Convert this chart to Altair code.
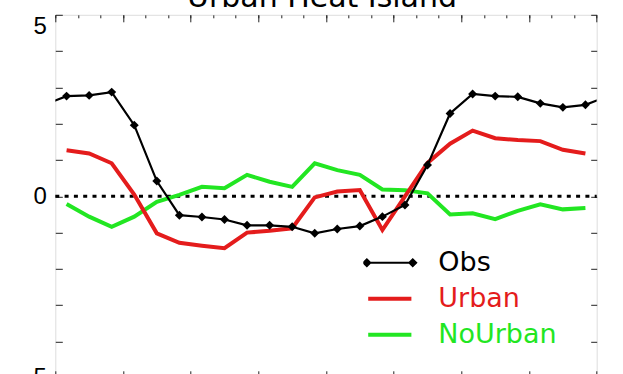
import altair as alt
import pandas as pd

# ---- data ----
hours = [i + 0.5 for i in range(24)]
obs = [2.76, 2.78, 2.87, 1.96, 0.42, -0.52, -0.57, -0.64, -0.80, -0.80, -0.84, -1.02,
       -0.90, -0.82, -0.56, -0.24, 0.86, 2.28, 2.82, 2.76, 2.74, 2.56, 2.45, 2.52]
urban = [1.27, 1.18, 0.91, 0.05, -1.02, -1.28, -1.36, -1.43, -1.00, -0.95, -0.88, -0.03,
         0.13, 0.17, -0.93, 0.00, 0.92, 1.45, 1.81, 1.60, 1.55, 1.52, 1.28, 1.18]
nourban = [-0.21, -0.56, -0.84, -0.56, -0.15, 0.04, 0.26, 0.22, 0.59, 0.40, 0.26, 0.91,
           0.72, 0.59, 0.19, 0.17, 0.08, -0.50, -0.47, -0.63, -0.40, -0.22, -0.36, -0.32]
series_names = ["Obs", "Urban", "NoUrban"]
series_colors = ["#000000", "#e41c1c", "#22e622"]
x_major = [0, 3, 6, 9, 12, 15, 18, 21, 24]
x_minor = list(range(25))
y_ticks = list(range(-5, 6))
x_range = [0, 24]
y_range = [-5, 5]

# obs is a daily cycle: wrap one point on each side (clipped at the frame)
obs_hours = [hours[0] - 1] + hours + [hours[-1] + 1]
obs_vals = [obs[-1]] + obs + [obs[0]]

rows = []
for h, v in zip(obs_hours, obs_vals):
    rows.append({"series": "Obs", "hour": h, "value": v})
for h, v in zip(hours, urban):
    rows.append({"series": "Urban", "hour": h, "value": v})
for h, v in zip(hours, nourban):
    rows.append({"series": "NoUrban", "hour": h, "value": v})
df = pd.DataFrame(rows)
pts = pd.DataFrame({"hour": hours, "value": obs})
zero_df = pd.DataFrame({"z": [0]})

xs = alt.Scale(domain=x_range, nice=False, zero=False)
ys = alt.Scale(domain=y_range, nice=False, zero=False)

TICK = "#222222"
base_ax = dict(domain=False, grid=False, title=None, tickColor=TICK, tickWidth=1,
               labelOverlap=False, labelFlush=False)

top_major = alt.Axis(orient="top", values=x_major, tickSize=7, offset=-7, labels=False, **base_ax)
top_minor = alt.Axis(orient="top", values=x_minor, tickSize=3, offset=-3, labels=False, **base_ax)
bottom_major = alt.Axis(orient="bottom", values=x_major, tickSize=7, offset=-7, labels=False, **base_ax)
left_ax = alt.Axis(
    orient="left", values=y_ticks, tickSize=7, offset=-7,
    labelExpr="datum.value == 5 ? '5' : (datum.value == 0 ? '0' : (datum.value == -5 ? '\u22125' : ''))",
    labelFont="Liberation Sans", labelFontSize=24, labelColor="black", labelPadding=9,
    labelBaseline={"condition": {"test": "datum.value == 5", "value": "top"}, "value": "middle"},
    **base_ax)
right_ax = alt.Axis(orient="right", values=y_ticks, tickSize=6, offset=-6, labels=False, **base_ax)

obs_path = ("M-1.35,0L1.35,0"
            "M-1.55,0L-1.35,-0.2L-1.15,0L-1.35,0.2Z"
            "M1.15,0L1.35,-0.2L1.55,0L1.35,0.2Z")
line_path = "M-1.27,0L1.27,0"

legend = alt.Legend(
    orient="none", legendX=308, legendY=230, title=None, padding=0, rowPadding=0,
    clipHeight=35.8, symbolSize=1156, symbolOffset=13, labelOffset=35,
    labelFont="DejaVu Sans", labelFontSize=27, labelLimit=0,
    symbolType=alt.ExprRef(expr=f"datum.value === 'Obs' ? '{obs_path}' : '{line_path}'"),
    symbolFillColor=alt.ExprRef(expr="datum.value === 'Obs' ? 'black' : 'transparent'"),
    symbolStrokeWidth=alt.ExprRef(expr="datum.value === 'Obs' ? 2 : 4"),
    labelColor=alt.ExprRef(expr=f"datum.value === 'Obs' ? '{series_colors[0]}' : (datum.value === 'Urban' ? '{series_colors[1]}' : '{series_colors[2]}')"),
)

color = alt.Color("series:N", scale=alt.Scale(domain=series_names, range=series_colors), legend=legend)

zero_rule = alt.Chart(zero_df).mark_rule(color="black", strokeWidth=3, strokeDash=[4, 5.3]).encode(
    x=alt.X(datum=x_range[0], scale=xs, axis=top_major),
    x2=alt.X2(datum=x_range[1]),
    y=alt.Y(datum=0, scale=ys, axis=None),
)

green = alt.Chart(df).transform_filter("datum.series == 'NoUrban'").mark_line(strokeWidth=4, clip=True).encode(
    x=alt.X("hour:Q", scale=xs, axis=top_minor),
    y=alt.Y("value:Q", scale=ys, axis=right_ax),
    color=color,
)
red = alt.Chart(df).transform_filter("datum.series == 'Urban'").mark_line(strokeWidth=4, clip=True).encode(
    x=alt.X("hour:Q", scale=xs, axis=bottom_major),
    y=alt.Y("value:Q", scale=ys, axis=None),
    color=color,
)
black = alt.Chart(df).transform_filter("datum.series == 'Obs'").mark_line(strokeWidth=2.2, clip=True).encode(
    x=alt.X("hour:Q", scale=xs, axis=None),
    y=alt.Y("value:Q", scale=ys, axis=left_ax),
    color=color,
)
diamonds = alt.Chart(pts).mark_point(shape="diamond", filled=True, size=80, opacity=1, color="black", clip=True).encode(
    x=alt.X("hour:Q", scale=xs, axis=None),
    y=alt.Y("value:Q", scale=ys, axis=None),
)

chart = alt.layer(zero_rule, green, red, black, diamonds).resolve_axis(
    x="independent", y="independent"
).properties(
    width=541.4,
    height=363,
    title=alt.TitleParams("Urban Heat Island", font="DejaVu Sans", fontSize=30, fontWeight="normal",
                          color="black", anchor="middle", offset=0, baseline="alphabetic", dx=-4, dy=23),
    padding={"left": 55.3, "top": 14.8, "right": 26.3, "bottom": 0},
    autosize=alt.AutoSizeParams(type="none"),
).configure_view(stroke="#222222", strokeWidth=1.3).configure(background="white")

chart.save("out.html", embed_options={"renderer": "svg", "actions": False})
